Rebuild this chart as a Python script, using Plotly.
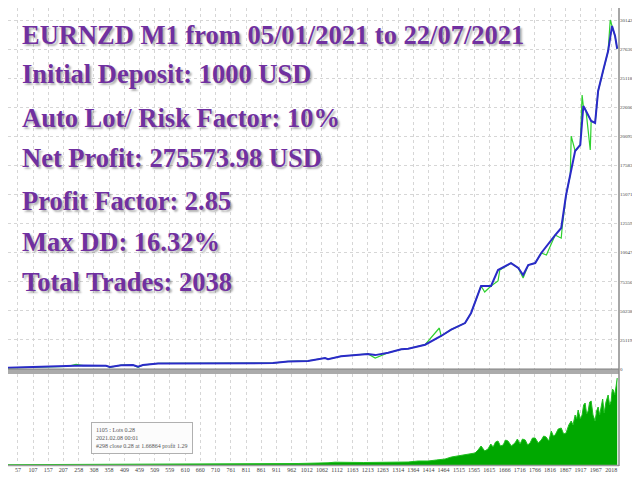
import plotly.graph_objects as go

# ---------------- data ----------------
title_lines = [
    "EURNZD M1 from 05/01/2021 to 22/07/2021",
    "Initial Deposit: 1000 USD",
    "Auto Lot/ Risk Factor: 10%",
    "Net Profit: 275573.98 USD",
    "Profit Factor: 2.85",
    "Max DD: 16.32%",
    "Total Trades: 2038",
]

# balance (blue)
bal_n = [24, 77, 123, 222, 249, 272, 348, 361, 398, 437, 454, 470, 520, 603, 685, 818, 900, 950,
         1016, 1072, 1082, 1125, 1214, 1238, 1281, 1324, 1347, 1403, 1456, 1489, 1535, 1555, 1588,
         1621, 1644, 1687, 1711, 1727, 1744, 1767, 1787, 1833, 1853, 1869, 1883, 1899, 1916, 1926,
         1935, 1952, 1965, 1975, 1992, 2008, 2021, 2031, 2038]
bal_v = [1000, 1500, 1800, 2300, 3200, 3000, 2800, 1800, 3300, 3500, 2000, 3400, 4800, 5000, 5000,
         5300, 5100, 6500, 7000, 9500, 8500, 11000, 13000, 12000, 14000, 17000, 17500, 21000, 28500,
         34000, 39700, 48400, 71700, 71700, 85500, 91500, 87200, 81200, 89800, 91500, 100200, 115700,
         121800, 150300, 167600, 188300, 193500, 227100, 222800, 214200, 212500, 240100, 258300,
         274600, 296300, 287600, 276574]

# equity (green)
eq_n = [24, 77, 123, 222, 249, 272, 348, 361, 398, 437, 454, 470, 520, 603, 685, 818, 900, 950,
        1016, 1072, 1082, 1125, 1214, 1238, 1281, 1324, 1347, 1403, 1450, 1456, 1489, 1535, 1555,
        1588, 1600, 1621, 1644, 1650, 1687, 1711, 1727, 1744, 1767, 1787, 1804, 1833, 1853, 1856,
        1869, 1883, 1886, 1899, 1916, 1922, 1926, 1935, 1949, 1952, 1965, 1975, 1992, 2008, 2015,
        2021, 2031, 2038]
eq_v = [1000, 1500, 1800, 2300, 4000, 3000, 2800, 1500, 3300, 3500, 1500, 3400, 4800, 5000, 5000,
        5300, 5100, 6500, 7000, 9500, 8500, 11000, 13000, 9500, 14000, 17000, 17500, 21000, 35400,
        28500, 34000, 39700, 48400, 71700, 66500, 71700, 76000, 85500, 91500, 87200, 78600, 89800,
        91500, 100200, 98500, 115700, 113000, 121800, 150300, 167600, 201200, 188300, 193500,
        236700, 227100, 222800, 189100, 214200, 212500, 240100, 258300, 274600, 301425, 296300,
        287600, 276574]

# lots (bottom panel)
lot_n = [24, 355, 685, 983, 1082, 1105, 1200, 1281, 1347, 1380, 1413, 1440, 1469, 1490, 1512, 1540,
         1568, 1578, 1588, 1600, 1611, 1620, 1628, 1636, 1644, 1652, 1661, 1669, 1677, 1688, 1700,
         1708, 1717, 1725, 1734, 1742, 1750, 1758, 1767, 1777, 1787, 1795, 1803, 1812, 1820, 1827,
         1833, 1843, 1853, 1861, 1869, 1878, 1886, 1892, 1899, 1904, 1909, 1916, 1922, 1927, 1932,
         1937, 1942, 1947, 1952, 1958, 1965, 1970, 1975, 1980, 1985, 1990, 1995, 2001, 2008, 2013,
         2018, 2022, 2025, 2030, 2035, 2038]
lot_v = [0.03, 0.06, 0.1, 0.15, 0.22, 0.28, 0.25, 0.3, 0.3, 0.4, 0.4, 0.5, 0.6, 0.8, 0.9, 1.0,
         1.2, 1.5, 1.9, 1.4, 1.6, 2.1, 1.8, 2.3, 2.4, 1.9, 2.0, 2.5, 2.4, 1.9, 2.2,
         2.6, 2.1, 2.6, 2.5, 2.0, 2.2, 2.7, 2.7, 2.2, 2.5, 2.9, 2.8, 2.4, 3.4, 2.9,
         3.0, 3.6, 3.7, 3.1, 3.2, 4.0, 4.4, 4.0, 5.0, 4.6, 5.5, 4.6, 5.0, 6.0, 6.2,
         5.1, 5.4, 6.3, 6.4, 5.0, 4.4, 5.4, 5.8, 5.0, 6.0, 6.6, 5.2, 6.3, 7.0, 6.0,
         6.4, 7.6, 7.5, 7.0, 8.0, 8.7]

x_ticks = [57, 107, 157, 207, 258, 308, 358, 409, 459, 509, 559, 610, 660, 710, 761, 811, 861, 911,
           962, 1012, 1062, 1112, 1163, 1213, 1263, 1314, 1364, 1414, 1464, 1515, 1565, 1615, 1666,
           1716, 1766, 1816, 1867, 1917, 1967, 2018]
y_ticks = [0, 25119, 50238, 75356, 100475, 125594, 150712, 175831, 200950, 226069, 251188, 276307, 301425]
y_tick_text = ["0", "25119", "50238", "75356", "100475", "125594", "150712", "175831", "200950",
               "226069", "251188", "276307", "301425"]

tooltip_lines = ["1105 : Lots 0.28", "2021.02.08 00:01", "#298 close 0.28 at 1.66864 profit 1.29"]

# ---------------- layout helpers ----------------
W, H = 640, 480
ML, MR, MT, MB = 0, 29, 0, 22
PW, PH = W - ML - MR, H - MT - MB


def px(xp):
    return (xp - ML) / PW


def py(yp):
    return 1 - (yp - MT) / PH


fig = go.Figure()

fig.add_trace(go.Scatter(x=eq_n, y=eq_v, mode="lines", line=dict(color="#2ed12e", width=1.2),
                         xaxis="x2", yaxis="y", hoverinfo="skip"))
fig.add_trace(go.Scatter(x=bal_n, y=bal_v, mode="lines", line=dict(color="#2a2ac8", width=2),
                         xaxis="x2", yaxis="y", hoverinfo="skip"))
fig.add_trace(go.Scatter(x=lot_n, y=lot_v, mode="lines", fill="tozeroy", fillcolor="#00a800",
                         line=dict(color="#1fbf1f", width=1), xaxis="x", yaxis="y2",
                         hoverinfo="skip"))

grid = dict(showgrid=True, gridcolor="#d6d6d6", griddash="dot", gridwidth=1)

fig.update_layout(
    width=W, height=H,
    margin=dict(l=ML, r=MR, t=MT, b=MB),
    paper_bgcolor="white", plot_bgcolor="white",
    showlegend=False,
    xaxis=dict(domain=[0, 1], range=[24, 2044], anchor="y2", tickvals=x_ticks,
               ticktext=[str(v) for v in x_ticks], tickfont=dict(size=6, color="#444",
               family="Liberation Serif"), ticks="", zeroline=False, showline=False, **grid),
    xaxis2=dict(domain=[0, 1], range=[24, 2044], anchor="y", matches="x", tickvals=x_ticks,
                showticklabels=False, ticks="", zeroline=False, showline=False, **grid),
    yaxis=dict(domain=[py(361), 1], range=[0, 311800], side="right", anchor="x2",
               tickvals=y_ticks, ticktext=y_tick_text, ticks="",
               tickfont=dict(size=5, color="#444", family="Liberation Serif"),
               zeroline=False, showline=False, **grid),
    yaxis2=dict(domain=[py(457), py(366)], range=[0, 9.1], side="right", anchor="x",
                showticklabels=False, showgrid=False, zeroline=False, showline=False),
)

shapes = []
# separator between panels
shapes.append(dict(type="rect", xref="paper", yref="paper", x0=px(0), x1=px(611), y0=py(366),
                   y1=py(361), fillcolor="#ababab", line=dict(width=0)))
shapes.append(dict(type="line", xref="paper", yref="paper", x0=px(0), x1=px(611), y0=py(361),
                   y1=py(361), line=dict(color="#808080", width=1)))
# bottom axis line
shapes.append(dict(type="line", xref="paper", yref="paper", x0=px(0), x1=px(611), y0=py(457.5),
                   y1=py(457.5), line=dict(color="#9a9a9a", width=1.5)))
# right axis line
shapes.append(dict(type="line", xref="paper", yref="paper", x0=px(611), x1=px(611), y0=py(0),
                   y1=py(458), line=dict(color="#8a8a8a", width=1.5)))
# scroll bar lines
shapes.append(dict(type="line", xref="paper", yref="paper", x0=px(0), x1=px(52), y0=py(474),
                   y1=py(474), line=dict(color="#a0a0a0", width=2)))
shapes.append(dict(type="line", xref="paper", yref="paper", x0=px(77), x1=px(633), y0=py(474),
                   y1=py(474), line=dict(color="#a0a0a0", width=2)))
shapes.append(dict(type="line", xref="paper", yref="paper", x0=px(633), x1=px(633), y0=py(0),
                   y1=py(474), line=dict(color="#e6e6e6", width=1)))
fig.update_layout(shapes=shapes)

annotations = []
cap_mid = [25, 64, 108, 148, 191, 232, 272]
for txt, ym in zip(title_lines, cap_mid):
    annotations.append(dict(
        text=txt, xref="paper", yref="paper", x=px(12), y=py(ym + 2), xanchor="left",
        yanchor="middle", showarrow=False,
        font=dict(family="Liberation Serif", size=26.5, color="#7030a0", weight="bold",
                  shadow="2px 2px 2px rgba(0,0,0,0.3)")))

annotations.append(dict(
    text="<br>".join(tooltip_lines), xref="paper", yref="paper", x=px(83), y=py(414),
    xanchor="left", yanchor="top", align="left", showarrow=False,
    bgcolor="#fcfcfc", bordercolor="#b0b0b0", borderwidth=1, borderpad=4,
    font=dict(family="Liberation Serif", size=6, color="#555")))
fig.update_layout(annotations=annotations)

fig.write_html("out.html")
